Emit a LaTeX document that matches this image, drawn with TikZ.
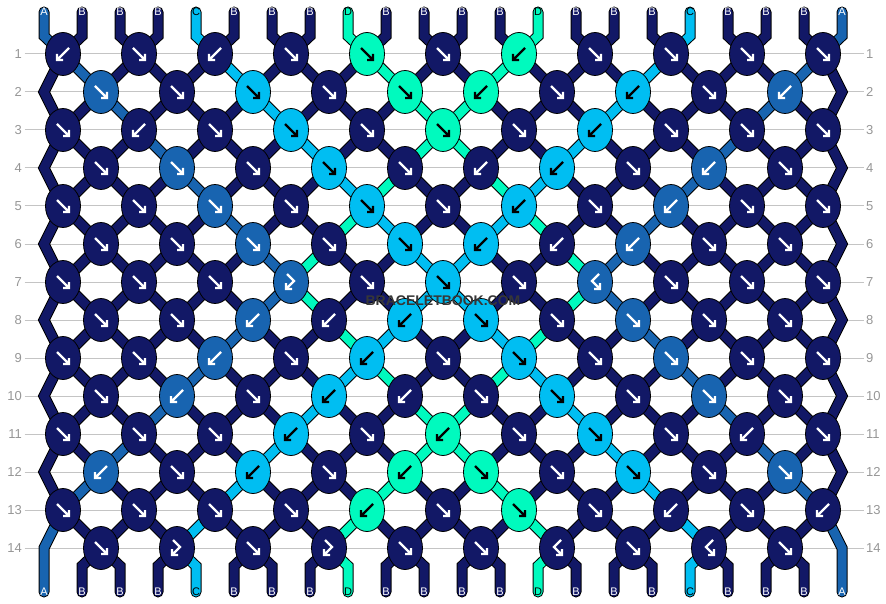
\documentclass[tikz,border=0pt]{standalone}
\usepackage{fontspec}
\setmainfont{Liberation Sans}
\usetikzlibrary{shapes.geometric}

\definecolor{strA}{RGB}{24,100,176}
\definecolor{strB}{RGB}{18,24,102}
\definecolor{strC}{RGB}{0,190,242}
\definecolor{strD}{RGB}{0,250,190}
\definecolor{gridgray}{RGB}{196,196,196}
\definecolor{numgray}{RGB}{150,150,150}
\definecolor{wmgray}{RGB}{55,55,55}

\pgfdeclarelayer{grid}
\pgfdeclarelayer{threads}
\pgfsetlayers{grid,threads,main}

\tikzset{
    knot/.style={ellipse, draw=black, line width=0.8pt, fill=str#1,
        minimum width=35pt, minimum height=43pt, inner sep=0pt},
    thread/.style={draw=black, line width=1pt, double=str#1, double distance=9pt},
    inkA/.style={white}, inkB/.style={white},
    inkC/.style={black}, inkD/.style={black},
    strlabel/.style={inner sep=0pt, font=\fontsize{11}{11}\selectfont},
    rownum/.style={inner sep=2.5pt, text=numgray, font=\fontsize{13}{13}\selectfont},
    wmtext/.style={inner sep=0pt, text=wmgray, font=\fontsize{14}{14}\selectfont\bfseries},
    fw/.pic={\draw[line width=2.4pt] (-6,-6) -- (6,6) (6,0) -- (6,6) -- (0,6);},
    bw/.pic={\draw[line width=2.4pt] (6,-6) -- (-6,6) (-6,0) -- (-6,6) -- (0,6);},
    fb/.pic={\draw[line width=2.4pt] (-4,-8) -- (3,-1) -- (-5,7) (-5,1) -- (-5,7) -- (1,7);},
    bf/.pic={\draw[line width=2.4pt] (4,-8) -- (-3,-1) -- (5,7) (5,1) -- (5,7) -- (-1,7);},
}

\begin{document}
\begin{tikzpicture}[x=1pt, y=-1pt]
        \useasboundingbox (0,0) rectangle (886,604);
        \foreach \rw/\knots in {
            1/{bw/B,fw/B,bw/B,fw/B,fw/D,fw/B,bw/D,fw/B,fw/B,fw/B,fw/B},
            2/{fw/A,fw/B,fw/C,fw/B,fw/D,bw/D,fw/B,bw/C,fw/B,bw/A},
            3/{fw/B,bw/B,fw/B,fw/C,fw/B,fw/D,fw/B,bw/C,fw/B,fw/B,fw/B},
            4/{fw/B,fw/A,fw/B,fw/C,fw/B,bw/B,bw/C,fw/B,bw/A,fw/B},
            5/{fw/B,fw/B,fw/A,fw/B,fw/C,fw/B,bw/C,fw/B,bw/A,fw/B,fw/B},
            6/{fw/B,fw/B,fw/A,fw/B,fw/C,bw/C,bw/B,bw/A,fw/B,fw/B},
            7/{fw/B,fw/B,fw/B,fb/A,fw/B,fw/C,fw/B,bf/A,fw/B,fw/B,fw/B},
            8/{fw/B,fw/B,bw/A,bw/B,bw/C,fw/C,fw/B,fw/A,fw/B,fw/B},
            9/{fw/B,fw/B,bw/A,fw/B,bw/C,fw/B,fw/C,fw/B,fw/A,fw/B,fw/B},
            10/{fw/B,bw/A,fw/B,bw/C,bw/B,fw/B,fw/C,fw/B,fw/A,fw/B},
            11/{fw/B,fw/B,fw/B,bw/C,fw/B,bw/D,fw/B,fw/C,fw/B,bw/B,fw/B},
            12/{bw/A,fw/B,bw/C,fw/B,bw/D,fw/D,fw/B,fw/C,fw/B,fw/A},
            13/{fw/B,fw/B,fw/B,fw/B,bw/D,fw/B,fw/D,fw/B,bw/B,fw/B,bw/B},
            14/{fw/B,fb/B,fw/B,fb/B,fw/B,fw/B,bf/B,fw/B,bf/B,fw/B}}{
            \foreach \kd/\kc [count=\i from 0] in \knots {
                \ifodd\rw
                    \pgfmathsetmacro{\kx}{63+76*\i}
                \else
                    \pgfmathsetmacro{\kx}{101+76*\i}
                \fi
                \node[knot=\kc] (k\rw-\i) at (\kx,16+38*\rw) {};
                \pic[ink\kc] at (k\rw-\i) {\kd};
            }
        }
        \foreach \c [count=\p from 0] in {A,B,B,B,C,B,B,B,D,B,B,B,B,D,B,B,B,C,B,B,B,A} {
            \node[strlabel, ink\c] (t\p) at (44+38*\p,12) {\c};
            \node[strlabel, ink\c] (b\p) at (44+38*\p,592) {\c};
        }
        \foreach \rw in {1,...,14} {
            \node[rownum, anchor=east] (l\rw) at (24.5,16+38*\rw) {\rw};
            \node[rownum, anchor=west] (r\rw) at (863.5,16+38*\rw) {\rw};
            \begin{pgfonlayer}{grid}
                \draw[gridgray, line width=1pt] (l\rw) -- (r\rw);
            \end{pgfonlayer}
        }
        \begin{pgfonlayer}{threads}
            \foreach \c [count=\p from 0] in {A,B,B,B,C,B,B,B,D,B,B,B,B,D,B,B,B,C,B,B,B,A} {
                \pgfmathtruncatemacro{\i}{\p/2}
                \draw[thread=\c, line cap=round] (t\p.center) -- ++(0,24) -- (k1-\i.center);
                \ifnum\p>0 \ifnum\p<21
                    \pgfmathtruncatemacro{\i}{(\p-1)/2}
                    \pgfmathsetmacro{\bx}{44+38*\p}
                    \draw[thread=\c, line cap=round] (k14-\i.center) -- (\bx,566) -- (b\p.center);
                \fi\fi
            }
            \foreach \rw/\st in {
                1/{B,A,B,B,B,C,B,B,B,D,B,B,D,B,B,B,C,B,B,B,A,B},
                2/{B,B,A,B,B,B,C,B,B,B,D,D,B,B,B,C,B,B,B,A,B,B},
                3/{B,B,B,A,B,B,B,C,B,B,D,D,B,B,C,B,B,B,A,B,B,B},
                4/{B,B,B,B,A,B,B,B,C,D,B,B,D,C,B,B,B,A,B,B,B,B},
                5/{B,B,B,B,B,A,B,B,D,C,B,B,C,D,B,B,A,B,B,B,B,B},
                6/{B,B,B,B,B,B,A,D,B,B,C,C,B,B,D,A,B,B,B,B,B,B},
                7/{B,B,B,B,B,B,A,D,B,B,C,C,B,B,D,A,B,B,B,B,B,B},
                8/{B,B,B,B,B,A,B,B,D,C,B,B,C,D,B,B,A,B,B,B,B,B},
                9/{B,B,B,B,A,B,B,B,C,D,B,B,D,C,B,B,B,A,B,B,B,B},
                10/{B,B,B,A,B,B,B,C,B,B,D,D,B,B,C,B,B,B,A,B,B,B},
                11/{B,B,A,B,B,B,C,B,B,B,D,D,B,B,B,C,B,B,B,A,B,B},
                12/{B,A,B,B,B,C,B,B,B,D,B,B,D,B,B,B,C,B,B,B,A,B},
                13/{A,B,B,B,C,B,B,B,D,B,B,B,B,D,B,B,B,C,B,B,B,A}}{
                \pgfmathtruncatemacro{\nx}{\rw+1}
                \pgfmathtruncatemacro{\nn}{\rw+2}
                \foreach \c [count=\p from 0] in \st {
                    \ifodd\rw
                        \pgfmathtruncatemacro{\i}{\p/2}
                        \ifnum\p=0
                            \ifnum\rw=13
                                \draw[thread=\c, line cap=round] (k13-0.center) -- ++(-19,38) -- (b0.center);
                            \else
                                \draw[thread=\c] (k\rw-0.center) -- ++(-19,38) -- (k\nn-0.center);
                            \fi
                        \else\ifnum\p=21
                            \ifnum\rw=13
                                \draw[thread=\c, line cap=round] (k13-10.center) -- ++(19,38) -- (b21.center);
                            \else
                                \draw[thread=\c] (k\rw-10.center) -- ++(19,38) -- (k\nn-10.center);
                            \fi
                        \else
                            \pgfmathtruncatemacro{\j}{(\p-1)/2}
                            \draw[thread=\c] (k\rw-\i.center) -- (k\nx-\j.center);
                        \fi\fi
                    \else
                        \ifnum\p>0 \ifnum\p<21
                            \pgfmathtruncatemacro{\i}{(\p-1)/2}
                            \pgfmathtruncatemacro{\j}{\p/2}
                            \draw[thread=\c] (k\rw-\i.center) -- (k\nx-\j.center);
                        \fi\fi
                    \fi
                }
            }
        \end{pgfonlayer}
        \node[wmtext] (wm) at (443,301) {BRACELETBOOK.COM};
\end{tikzpicture}
\end{document}
